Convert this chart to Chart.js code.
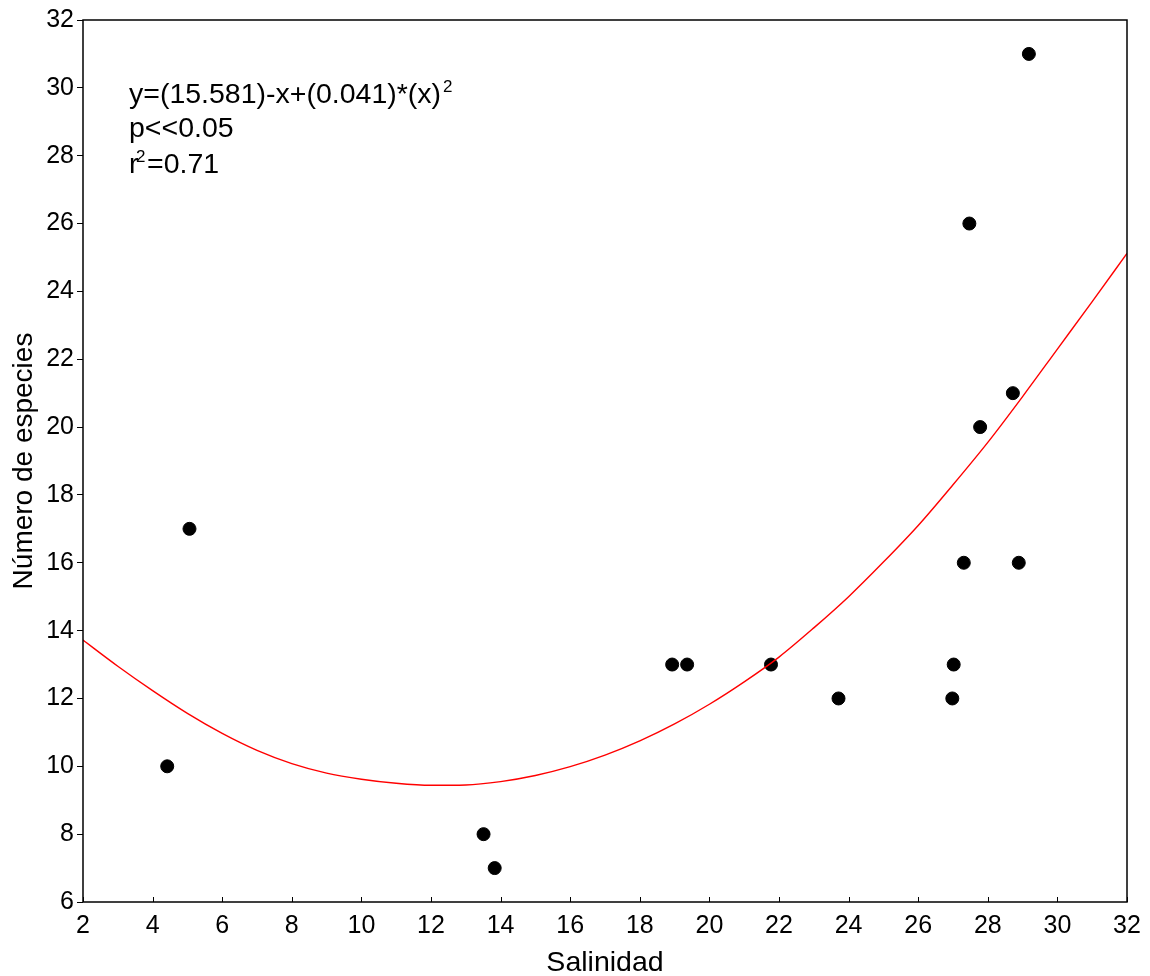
<!DOCTYPE html>
<html>
<head>
<meta charset="utf-8">
<script src="https://cdn.jsdelivr.net/npm/chart.js@4/dist/chart.umd.min.js"></script>
<style>
  html, body { margin: 0; padding: 0; background: #fff; }
  #wrap { width: 1150px; height: 976px; }
</style>
</head>
<body>
<div id="wrap"><canvas id="graph"></canvas></div>
<script>
// scatter points
const salinidad = [4.42, 5.06, 13.51, 13.83, 18.93, 19.36, 21.77, 23.71, 26.98, 27.02, 27.31, 27.47, 27.78, 28.72, 28.89, 29.18]
const especies  = [10, 17, 8, 7, 13, 13, 13, 12, 12, 13, 16, 26, 20, 21, 16, 31]

// fitted curve, every unit of salinity
const curvaX = [2, 3, 4, 5, 6, 7, 8, 9, 10, 11, 12, 13, 14, 15, 16, 17, 18, 19, 20, 21, 22, 23, 24, 25, 26, 27, 28, 29, 30, 31, 32]
const curvaY = [13.72, 12.95, 12.23, 11.56, 10.97, 10.47, 10.08, 9.80, 9.62, 9.50, 9.44, 9.45, 9.55, 9.73, 9.99, 10.33, 10.75, 11.25, 11.83, 12.49, 13.22, 14.08, 15.0, 16.02, 17.1, 18.3, 19.55, 20.9, 22.3, 23.7, 25.12]

const xTicks = [2, 4, 6, 8, 10, 12, 14, 16, 18, 20, 22, 24, 26, 28, 30, 32]

const FONT = '"Liberation Sans", Arial, Helvetica, sans-serif'

const puntos = salinidad.map((x, i) => ({ x: x, y: especies[i] }))
const curva = curvaX.map((x, i) => ({ x: x, y: curvaY[i] }))

// frame, inward x ticks and the equation text
const extras = {
  id: 'extras',
  afterDraw(chart) {
    const ctx = chart.ctx
    const a = chart.chartArea
    const sx = chart.scales.x
    ctx.save()
    ctx.strokeStyle = '#000'
    ctx.lineWidth = 1.5
    ctx.strokeRect(a.left, a.top, a.right - a.left, a.bottom - a.top)
    ctx.lineWidth = 1
    xTicks.forEach(v => {
      const px = Math.round(sx.getPixelForValue(v)) + 0.5
      ctx.beginPath()
      ctx.moveTo(px, a.bottom)
      ctx.lineTo(px, a.bottom - 5)
      ctx.stroke()
    })

    ctx.fillStyle = '#000'
    ctx.textBaseline = 'alphabetic'
    ctx.textAlign = 'left'
    ctx.font = '28.5px ' + FONT
    let t1 = 'y=(15.581)-x+(0.041)*(x)'
    ctx.fillText(t1, 129, 103)
    let w1 = ctx.measureText(t1).width
    ctx.fillText('p<<0.05', 129, 137)
    ctx.fillText('r', 129, 173)
    ctx.fillText('=0.71', 147, 173)
    ctx.font = '17px ' + FONT
    ctx.fillText('2', 129 + w1 + 2, 92)
    ctx.fillText('2', 136, 162)
    ctx.restore()
  }
}

new Chart(document.getElementById('graph'), {
  type: 'scatter',
  data: {
    datasets: [
      {
        label: 'ajuste',
        data: curva,
        showLine: true,
        borderColor: '#ff0000',
        borderWidth: 1.4,
        pointRadius: 0,
        cubicInterpolationMode: 'monotone',
        fill: false
      },
      {
        label: 'especies',
        data: puntos,
        backgroundColor: '#000',
        borderColor: '#000',
        pointRadius: 6.5,
        pointHoverRadius: 6.5
      }
    ]
  },
  options: {
    responsive: true,
    maintainAspectRatio: false,
    animation: false,
    layout: { padding: { top: 20, right: 23, left: 0, bottom: 0 } },
    plugins: {
      legend: { display: false },
      tooltip: { enabled: false }
    },
    scales: {
      x: {
        type: 'linear',
        min: 2,
        max: 32,
        afterFit: s => { s.height = 74 },
        afterBuildTicks: s => { s.ticks = xTicks.map(v => ({ value: v })) },
        ticks: { color: '#000', font: { family: FONT, size: 25 }, padding: 9, maxRotation: 0 },
        grid: { display: false, drawTicks: false },
        border: { display: false },
        title: { display: true, text: 'Salinidad', color: '#000', font: { family: FONT, size: 28.5 }, padding: { top: 0, bottom: -4 } }
      },
      y: {
        type: 'linear',
        min: 6,
        max: 32,
        afterFit: s => { s.width = 83 },
        ticks: { stepSize: 2, color: '#000', font: { family: FONT, size: 25 }, padding: 3 },
        grid: { drawOnChartArea: false, color: '#000', tickLength: 6, lineWidth: 1 },
        border: { display: false },
        title: { display: true, text: 'Número de especies', color: '#000', font: { family: FONT, size: 28 }, padding: { top: 7, bottom: 0 } }
      }
    }
  },
  plugins: [extras]
})
</script>
</body>
</html>
